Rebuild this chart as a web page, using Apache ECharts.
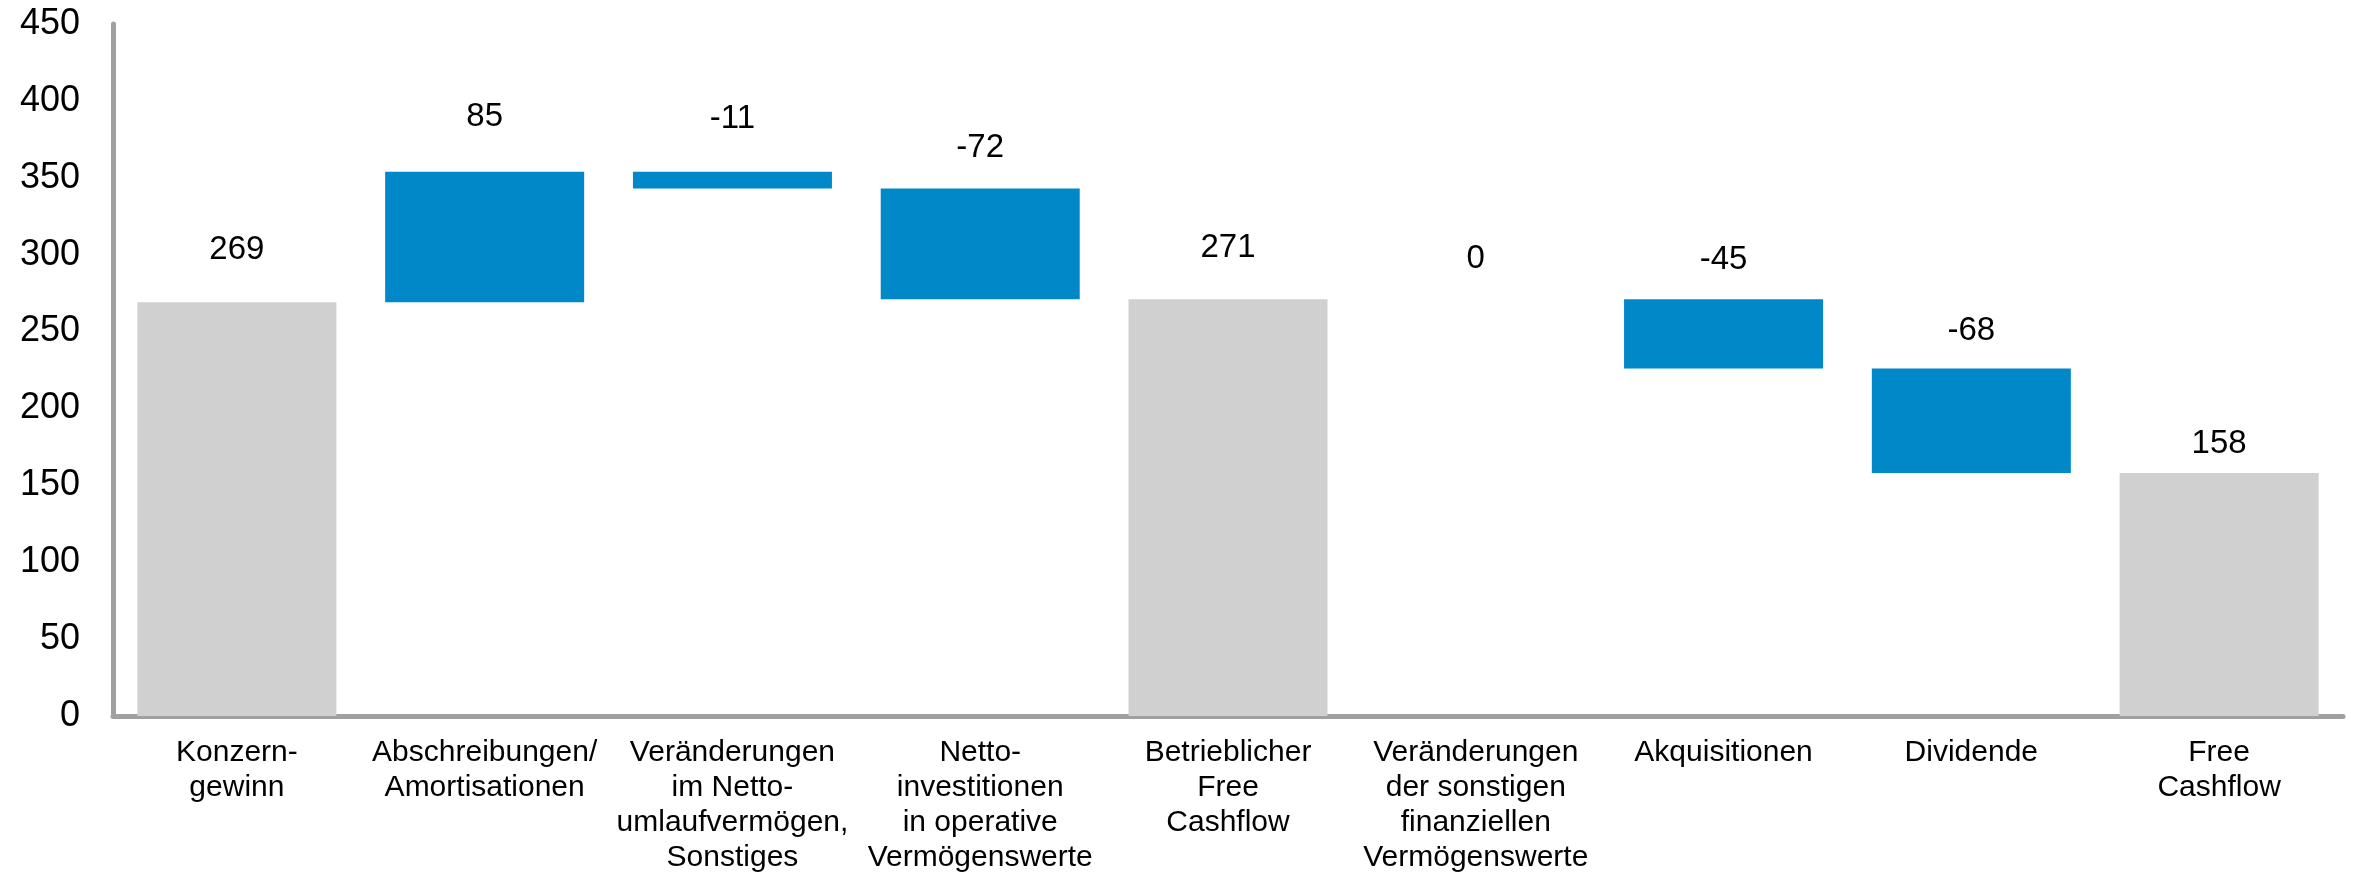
<!DOCTYPE html>
<html>
<head>
<meta charset="utf-8">
<title>Free Cashflow</title>
<script src="https://cdn.jsdelivr.net/npm/echarts@6/dist/echarts.min.js"></script>
<style>
    html, body { margin: 0; padding: 0; background: #fff; }
    #chart { width: 2354px; height: 875px; }
</style>
</head>
<body>
<div id="chart"></div>
<script>
// Kategorien (x-Achse)
var categories = [
    'Konzern-\ngewinn',
    'Abschreibungen/\nAmortisationen',
    'Veränderungen\nim Netto-\numlaufvermögen,\nSonstiges',
    'Netto-\ninvestitionen\nin operative\nVermögenswerte',
    'Betrieblicher\nFree\nCashflow',
    'Veränderungen\nder sonstigen\nfinanziellen\nVermögenswerte',
    'Akquisitionen',
    'Dividende',
    'Free\nCashflow'
];
// Werte: Summen bzw. Veränderungen
var values = [269, 85, -11, -72, 271, 0, -45, -68, 158];
// true = Summenbalken (grau), false = Veränderung (blau)
var isTotal = [true, false, false, false, true, false, false, false, true];
// y-Achse
var yMin = 0;
var yMax = 450;
var yStep = 50;

var chart = echarts.init(document.getElementById('chart'));

// Abstand der Wertebeschriftung über dem Balken (Stil)
var labelDistance = [36, 38, 36, 24, 35, 24, 23, 21, 13];

// Wasserfall: unsichtbarer Sockel + sichtbarer Balken
var baseData = [];
var barData = [];
var running = 0;
for (var i = 0; i < values.length; i++) {
    var v = values[i];
    if (isTotal[i]) {
        running = v;
        baseData.push(0);
        barData.push({
            value: v,
            itemStyle: { color: '#d0d0d0' },
            label: { distance: labelDistance[i] }
        });
    } else {
        var start = running;
        var end = running + v;
        baseData.push(Math.min(start, end));
        barData.push({
            value: Math.abs(v),
            itemStyle: { color: '#0088c8' },
            label: { distance: labelDistance[i] }
        });
        running = end;
    }
}

var option = {
    animation: false,
    grid: {
        left: 113,
        right: 11,
        top: 24,
        bottom: 159,
        containLabel: false
    },
    xAxis: {
        type: 'category',
        data: categories,
        axisLine: { show: true, lineStyle: { color: '#a0a0a0', width: 5 } },
        axisTick: { show: false },
        axisLabel: {
            interval: 0,
            margin: 19,
            color: '#000',
            fontFamily: 'Liberation Sans',
            fontSize: 30,
            lineHeight: 35,
            align: 'center'
        }
    },
    yAxis: {
        type: 'value',
        min: yMin,
        max: yMax,
        interval: yStep,
        axisLine: { show: true, lineStyle: { color: '#a0a0a0', width: 5 } },
        axisTick: { show: false },
        splitLine: { show: false },
        axisLabel: {
            margin: 33,
            color: '#000',
            fontFamily: 'Liberation Sans',
            fontSize: 36,
            padding: [5, 0, 0, 0]
        }
    },
    series: [
        {
            name: 'Sockel',
            type: 'bar',
            stack: 'wf',
            barWidth: 199,
            silent: true,
            itemStyle: { color: 'transparent' },
            data: baseData
        },
        {
            name: 'Wert',
            type: 'bar',
            stack: 'wf',
            barWidth: 199,
            data: barData,
            label: {
                show: true,
                position: 'top',
                color: '#000',
                fontFamily: 'Liberation Sans',
                fontSize: 33,
                formatter: function (p) {
                    return String(values[p.dataIndex]);
                }
            }
        }
    ]
};

chart.setOption(option);
window.addEventListener('resize', chart.resize);
</script>
</body>
</html>
